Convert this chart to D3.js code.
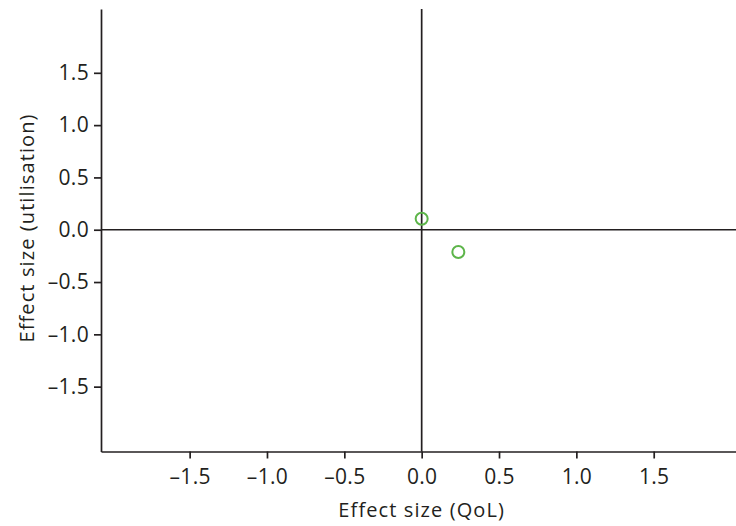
<!DOCTYPE html>
<html>
<head>
<meta charset="utf-8">
<script src="https://cdn.jsdelivr.net/npm/d3@7"></script>
<style>
  html, body { margin: 0; padding: 0; background: #fff; }
  svg text { font-family: "Open Sans", "Noto Sans", sans-serif; fill: #231f20; }
</style>
</head>
<body>
<svg id="chart" width="736" height="526"></svg>
<script>
// Effect sizes: quality of life (x) against utilisation (y)
const studies = ["Study A", "Study B"];
const qolEffect = [0.0, 0.237];
const utilisationEffect = [0.105, -0.213];
const xTicks = [-1.5, -1.0, -0.5, 0.0, 0.5, 1.0, 1.5];
const yTicks = [-1.5, -1.0, -0.5, 0.0, 0.5, 1.0, 1.5];

(function () {
  const svg = d3.select("#chart");
  const plotLeft = 101, plotRight = 736, plotTop = 9, plotBottom = 451.5;

  const x = d3.scaleLinear().domain([-2.073, 2.032]).range([plotLeft, plotRight]);
  const y = d3.scaleLinear().domain([-2.12, 2.11]).range([plotBottom, plotTop]);

  const fmt = d3.formatLocale({ decimal: ".", thousands: ",", grouping: [3], currency: ["", ""], minus: "\u2013" }).format(".1f");

  const ink = "#231f20";
  const tickFont = 21;
  const titleFont = 20;

  // x axis
  const gx = svg.append("g").attr("transform", `translate(0,${plotBottom})`)
    .call(d3.axisBottom(x).tickValues(xTicks).tickFormat(fmt).tickSize(7).tickSizeOuter(0).tickPadding(11));
  gx.select(".domain").attr("stroke", ink).attr("stroke-width", 1.7);
  gx.selectAll(".tick line").attr("stroke", ink).attr("stroke-width", 1.7);
  gx.selectAll(".tick text").attr("font-size", tickFont).attr("fill", ink)
    .style("font-family", "'Open Sans', sans-serif").style("letter-spacing", "0.3px");

  // y axis
  const gy = svg.append("g").attr("transform", `translate(${plotLeft},0)`)
    .call(d3.axisLeft(y).tickValues(yTicks).tickFormat(fmt).tickSize(7).tickSizeOuter(0).tickPadding(5));
  gy.select(".domain").attr("stroke", ink).attr("stroke-width", 1.7);
  gy.selectAll(".tick line").attr("stroke", ink).attr("stroke-width", 1.7);
  gy.selectAll(".tick text").attr("font-size", tickFont).attr("fill", ink)
    .style("font-family", "'Open Sans', sans-serif").style("letter-spacing", "0.3px");

  // zero reference lines
  svg.append("line")
    .attr("x1", plotLeft).attr("x2", plotRight).attr("y1", y(0)).attr("y2", y(0))
    .attr("stroke", ink).attr("stroke-width", 1.7);
  svg.append("line")
    .attr("x1", x(0)).attr("x2", x(0)).attr("y1", plotTop).attr("y2", plotBottom)
    .attr("stroke", ink).attr("stroke-width", 1.7);

  // axis titles
  svg.append("text")
    .attr("x", x(0)).attr("y", 517)
    .attr("text-anchor", "middle").attr("font-size", titleFont)
    .style("letter-spacing", "1.1px")
    .text("Effect size (QoL)");
  svg.append("text")
    .attr("transform", "translate(34,228) rotate(-90)")
    .attr("text-anchor", "middle").attr("font-size", titleFont)
    .style("letter-spacing", "1.1px")
    .text("Effect size (utilisation)");

  // study points
  svg.append("g").selectAll("circle")
    .data(studies.map((s, i) => ({ s, qol: qolEffect[i], util: utilisationEffect[i] })))
    .join("circle")
    .attr("cx", d => x(d.qol)).attr("cy", d => y(d.util)).attr("r", 6)
    .attr("fill", "none").attr("stroke", "#5db54a").attr("stroke-width", 2);
})();
</script>
</body>
</html>
